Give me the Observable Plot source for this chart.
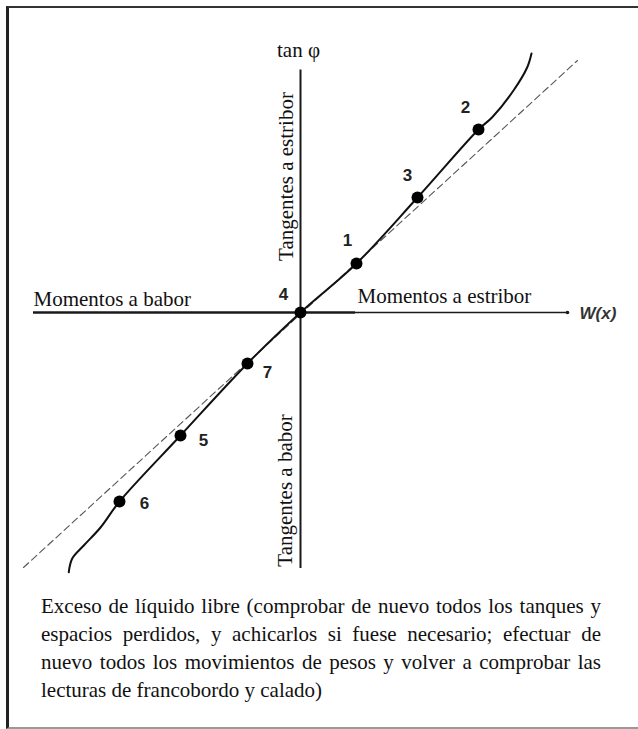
<!DOCTYPE html>
<html>
<head>
<meta charset="utf-8">
<script src="https://cdn.jsdelivr.net/npm/d3@7"></script>
<script src="https://cdn.jsdelivr.net/npm/@observablehq/plot@0.6"></script>
<style>
  html, body { margin: 0; padding: 0; background: #fff; }
  #wrap { position: relative; width: 638px; height: 729px; overflow: hidden; background: #fff; }
  #chart { position: absolute; left: 0; top: 0; }
  #frame { position: absolute; left: 6px; top: 6px; width: 640px; height: 719px;
           border-left: 3px solid #222; border-top: 2px solid #333; border-bottom: 2px solid #999; }
  #caption { position: absolute; left: 41px; top: 592px; width: 560px;
             font-family: "Liberation Serif", "Times New Roman", serif; font-size: 21px;
             line-height: 28px; color: #111; }
  #caption .j { text-align: justify; text-align-last: justify; white-space: nowrap; }
  #caption .l { text-align: left; white-space: nowrap; }
</style>
</head>
<body>
<div id="wrap">
  <div id="chart"></div>
  <div id="frame"></div>
  <div id="caption"></div>
</div>
<script>
// ---- data (abstract units, origin at the axis crossing) ----
const pointLabels = ["1", "2", "3", "4", "5", "6", "7"];
const pointX = [2.24, 7.12, 4.68, 0, -4.8, -7.24, -2.12];
const pointY = [1.96, 7.32, 4.6, 0, -4.92, -7.56, -2.04];
const labelX = [1.88, 6.6, 4.28, -0.68, -3.88, -6.24, -1.32];
const labelY = [2.88, 8.2, 5.48, 0.72, -5.12, -7.64, -2.4];

// curve W(x) vs tan φ (ordered along x)
const curveX = [-9.27, -9.13, -8.67, -8.0, -7.24, -4.8, -2.12, 0, 2.24, 4.68, 7.12, 7.67, 8.52, 9.07, 9.24];
const curveY = [-10.39, -9.84, -9.32, -8.6, -7.56, -4.92, -2.04, 0, 1.96, 4.6, 7.32, 7.81, 8.88, 9.81, 10.36];

// straight (dashed) reference line
const dashX = [-11.08, 11.08];
const dashY = [-10.2, 10.08];

// axes extents
const vAxisY = [9.7, -10.24];
const hAxisLeftX = [-10.68, 2.2];
const hAxisRightX = [2.2, 10.68];

// texts
const centerTexts = [{t: "tan φ", x: -0.08, y: 10.48}];
const rotatedTexts = [
  {t: "Tangentes a estribor", x: -0.56, y: 5.44},
  {t: "Tangentes a babor", x: -0.6, y: -7.12}
];
const startTexts = [
  {t: "Momentos a babor", x: -10.68, y: 0.52},
  {t: "Momentos a estribor", x: 2.28, y: 0.64}
];
const wLabel = {t: "W(x)", x: 11.16, y: -0.04};

const captionLines = [
  "Exceso de líquido libre (comprobar de nuevo todos los tanques y",
  "espacios perdidos, y achicarlos si fuese necesario; efectuar de",
  "nuevo todos los movimientos de pesos y volver a comprobar las",
  "lecturas de francobordo y calado)"
];

// ---- build tables ----
const points = pointLabels.map((k, i) => ({k, x: pointX[i], y: pointY[i], lx: labelX[i], ly: labelY[i]}));
const curve = curveX.map((x, i) => ({x, y: curveY[i]}));
const dash = dashX.map((x, i) => ({x, y: dashY[i]}));
const serif = "Liberation Serif, Times New Roman, serif";
const sans = "Liberation Sans, Arial, Helvetica, sans-serif";

const plot = Plot.plot({
  width: 638,
  height: 590,
  margin: 0,
  x: {domain: [-12, 12], range: [0, 600], axis: null},
  y: {domain: [-12, 12], range: [612, 12], axis: null},
  style: {background: "transparent"},
  marks: [
    Plot.ruleX([0], {y1: vAxisY[0], y2: vAxisY[1], stroke: "#1a1a1a", strokeWidth: 2}),
    Plot.ruleY([0], {x1: hAxisLeftX[0], x2: hAxisLeftX[1], stroke: "#1a1a1a", strokeWidth: 2.6}),
    Plot.ruleY([0], {x1: hAxisRightX[0], x2: hAxisRightX[1], stroke: "#1a1a1a", strokeWidth: 1.6}),
    Plot.dot([{x: hAxisRightX[1], y: 0}], {x: "x", y: "y", r: 1.8, fill: "#1a1a1a", stroke: "none"}),
    Plot.line(dash, {x: "x", y: "y", stroke: "#555", strokeWidth: 1.1, strokeDasharray: "7,4"}),
    Plot.line(curve, {x: "x", y: "y", stroke: "#111", strokeWidth: 2, curve: "catmull-rom"}),
    Plot.dot(points, {x: "x", y: "y", r: 6, fill: "#000", stroke: "none"}),
    Plot.text(points, {x: "lx", y: "ly", text: "k", fontFamily: sans, fontWeight: "bold", fontSize: 17, fill: "#222"}),
    Plot.text(centerTexts, {x: "x", y: "y", text: "t", textAnchor: "middle",
      fontFamily: serif, fontSize: 21, fill: "#111"}),
    Plot.text(startTexts, {x: "x", y: "y", text: "t", textAnchor: "start",
      fontFamily: serif, fontSize: 21, fill: "#111"}),
    Plot.text(rotatedTexts, {x: "x", y: "y", text: "t", rotate: -90, textAnchor: "middle",
      fontFamily: serif, fontSize: 21, fill: "#111"}),
    Plot.text([wLabel], {x: "x", y: "y", text: "t", textAnchor: "start", fontFamily: sans,
      fontStyle: "italic", fontWeight: "bold", fontSize: 17, fill: "#333"})
  ]
});
document.getElementById("chart").appendChild(plot);

const cap = document.getElementById("caption");
captionLines.forEach((line, i) => {
  const div = document.createElement("div");
  div.className = i < captionLines.length - 1 ? "j" : "l";
  div.textContent = line;
  cap.appendChild(div);
});
</script>
</body>
</html>
